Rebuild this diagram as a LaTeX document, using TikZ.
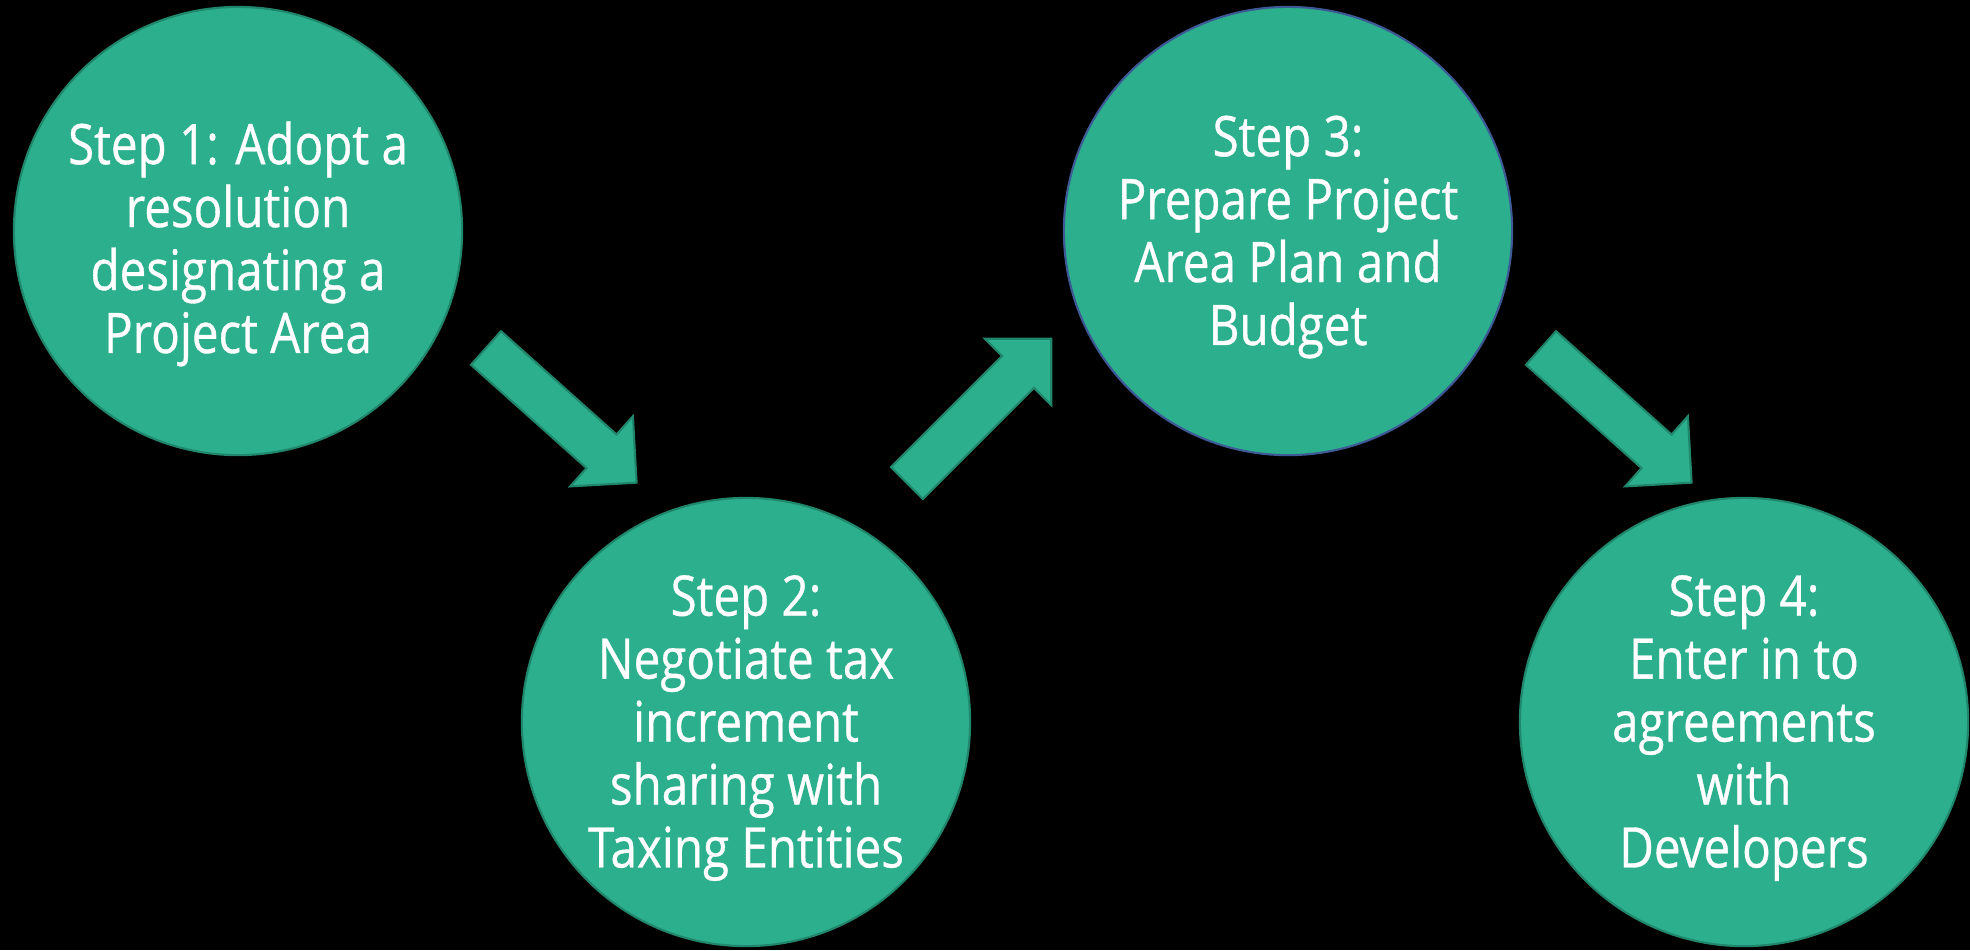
\documentclass[tikz,border=0pt]{standalone}
\usepackage{fontspec}
\setmainfont{Open Sans}[FakeStretch=0.85, FakeBold=0.6]
\definecolor{stepfill}{RGB}{43,175,140}
\definecolor{stepline}{RGB}{33,135,108}
\definecolor{stepblue}{RGB}{62,90,150}
\tikzset{
  stepcircle/.style={circle, fill=stepfill, draw=stepline, line width=0.6pt,
    minimum size=4.48cm, inner sep=0pt},
  steptext/.style={text=white, align=center,
    font=\fontsize{15.9pt}{17.9pt}\selectfont},
  blockarrow/.style={fill=stepfill, draw=stepline, line width=0.6pt, line join=miter}
}
\newcommand{\blockarrowpath}[1]{%
  \path[blockarrow] (0,-22.5) -- ({#1-47},-22.5) -- ({#1-47},-47) -- (#1,0)
    -- ({#1-47},47) -- ({#1-47},22.5) -- (0,22.5) -- cycle;}
\begin{document}
\begin{tikzpicture}[x=0.01cm, y=-0.01cm]
\fill[black] (0,0) rectangle (1970,950);
\useasboundingbox (0,0) rectangle (1970,950);

\node[stepcircle] (s1) at (238,231) {};
\node[stepcircle] (s2) at (746,722) {};
\node[stepcircle, draw=stepblue] (s3) at (1288,231) {};
\node[stepcircle] (s4) at (1744,722) {};

\node[steptext] (t1) at ([yshift=-0.13cm]s1.center) {Step 1: Adopt a\\resolution\\designating a\\Project Area};
\node[steptext] (t2) at ([yshift=-0.06cm]s2.center) {Step 2:\\Negotiate tax\\increment\\sharing with\\Taxing Entities};
\node[steptext] (t3) at ([yshift=-0.06cm]s3.center) {Step 3:\\Prepare Project\\Area Plan and\\Budget};
\node[steptext] (t4) at ([yshift=-0.06cm]s4.center) {Step 4:\\Enter in to\\agreements\\with\\Developers};

\coordinate (a1) at (486,348);
\coordinate (a2) at (907,483);
\coordinate (a3) at (1541,348);
\begin{scope}[shift={(a1)}, rotate=-41.8]\blockarrowpath{202}\end{scope}
\begin{scope}[shift={(a2)}, rotate=45]\blockarrowpath{204}\end{scope}
\begin{scope}[shift={(a3)}, rotate=-41.8]\blockarrowpath{202}\end{scope}
\end{tikzpicture}
\end{document}
